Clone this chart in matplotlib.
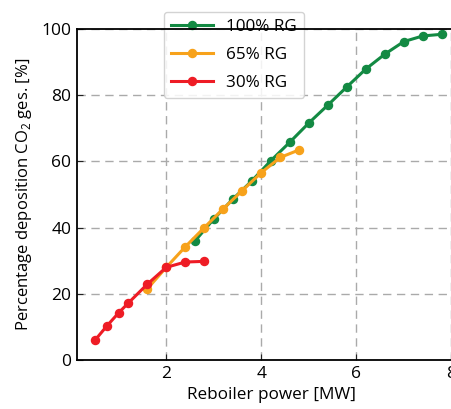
import matplotlib.pyplot as plt

plt.rcParams['font.family'] = ['Open Sans', 'DejaVu Sans']
plt.rcParams['mathtext.fontset'] = 'custom'
plt.rcParams['mathtext.rm'] = 'Open Sans'

# 100% RG
x100 = [2.6, 3.0, 3.4, 3.8, 4.2, 4.6, 5.0, 5.4, 5.8, 6.2, 6.6, 7.0, 7.4, 7.8]
y100 = [35.9, 42.6, 48.6, 54.1, 60.2, 65.8, 71.6, 77.0, 82.5, 87.9, 92.4, 96.2, 97.9, 98.4]
# 65% RG
x65 = [1.6, 2.0, 2.4, 2.8, 3.2, 3.6, 4.0, 4.4, 4.8]
y65 = [21.5, 28.0, 34.2, 40.0, 45.7, 51.2, 56.6, 61.2, 63.5]
# 30% RG
x30 = [0.5, 0.75, 1.0, 1.2, 1.6, 2.0, 2.4, 2.8]
y30 = [6.0, 10.3, 14.3, 17.2, 22.9, 28.0, 29.6, 29.8]

labels = ['100% RG', '65% RG', '30% RG']
colors = ['#138a43', '#f7a21b', '#ee1c25']

fig = plt.figure(figsize=(4.51, 4.09), dpi=100)
ax = fig.add_axes([0.1707, 0.1198, 0.8616, 0.8093])

for xs, ys, lab, c in zip([x100, x65, x30], [y100, y65, y30], labels, colors):
    ax.plot(xs, ys, '-o', color=c, lw=2.2, ms=5.8, label=lab)

ax.set_xlim(0.12, 8.3)
ax.set_ylim(0, 100)
ax.set_xticks([2, 4, 6, 8])
ax.set_yticks([0, 20, 40, 60, 80, 100])
ax.grid(True, ls=(0, (6, 4)), color='#aaaaaa', lw=1)
ax.tick_params(direction='in', labelsize=12.5, length=4, color='#222222', pad=4)
for s in ax.spines.values():
    s.set_linewidth(1.3)
ax.spines['top'].set_zorder(6)

ax.set_xlabel('Reboiler power [MW]', fontsize=12.3, labelpad=4)
ax.set_ylabel(r'Percentage deposition CO$_2$ ges. [%]', fontsize=12, labelpad=5)

leg = ax.legend(loc='upper left', bbox_to_anchor=(164 / 451, 1 - 12 / 409),
                bbox_transform=fig.transFigure, borderaxespad=0, fontsize=12.3,
                handlelength=2.45, labelspacing=0.7, handletextpad=0.8,
                framealpha=0.85, edgecolor='#cccccc')
leg.set_zorder(5)

fig.savefig('out.png', dpi=100)
